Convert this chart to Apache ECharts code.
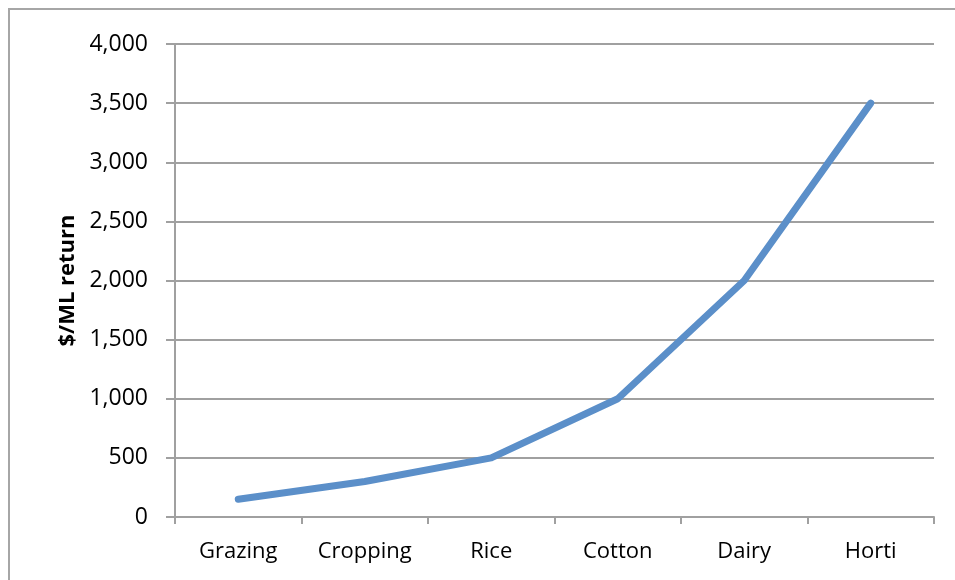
<!DOCTYPE html>
<html>
<head>
<meta charset="utf-8">
<script src="https://cdn.jsdelivr.net/npm/echarts@6/dist/echarts.min.js"></script>
<style>
html,body{margin:0;padding:0;background:#fff;}
#chart{width:955px;height:580px;}
</style>
</head>
<body>
<div id="chart"></div>
<script>
var categories = ['Grazing', 'Cropping', 'Rice', 'Cotton', 'Dairy', 'Horti'];
var values = [150, 300, 500, 1000, 2000, 3500];
var yAxisName = '$/ML return';

var chart = echarts.init(document.getElementById('chart'), null, {renderer: 'canvas'});
var font = '"Open Sans", "Liberation Sans", sans-serif';
chart.setOption({
  animation: false,
  backgroundColor: '#ffffff',
  graphic: [{
    type: 'rect',
    shape: {x: 9, y: 9, width: 980, height: 620},
    style: {fill: 'none', stroke: '#a6a6a6', lineWidth: 2},
    z: -1
  }],
  grid: {left: 175, right: 21, top: 44, bottom: 63},
  xAxis: {
    type: 'category',
    data: categories,
    boundaryGap: true,
    axisLine: {lineStyle: {color: '#a0a0a0', width: 2}},
    axisTick: {show: true, length: 7, lineStyle: {color: '#a0a0a0', width: 2}},
    axisLabel: {color: '#000', fontSize: 22, fontFamily: font, margin: 24}
  },
  yAxis: {
    type: 'value',
    min: 0, max: 4000, interval: 500,
    name: yAxisName,
    nameLocation: 'middle',
    nameGap: 96,
    nameRotate: 90,
    nameTextStyle: {color: '#000', fontSize: 22, fontWeight: 'bold', fontFamily: font},
    axisLine: {show: true, lineStyle: {color: '#a0a0a0', width: 2}},
    axisTick: {show: true, length: 9, lineStyle: {color: '#a0a0a0', width: 2}},
    splitLine: {show: true, lineStyle: {color: '#a0a0a0', width: 2}},
    axisLabel: {
      color: '#000', fontSize: 23, fontFamily: font, margin: 27,
      formatter: function (v) { return v.toLocaleString('en-US'); }
    }
  },
  series: [{
    type: 'line',
    data: values,
    symbol: 'none',
    lineStyle: {color: '#5b8fc9', width: 7, cap: 'round', join: 'round'}
  }]
});
</script>
</body>
</html>
